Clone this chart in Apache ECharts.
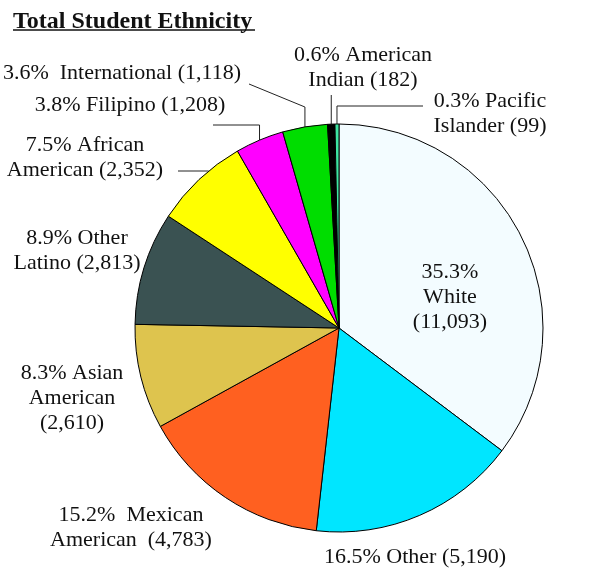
<!DOCTYPE html>
<html>
<head>
<meta charset="utf-8">
<script src="https://cdn.jsdelivr.net/npm/echarts@6/dist/echarts.min.js"></script>
<style>
  html, body { margin: 0; padding: 0; background: #fff; }
  #chart { width: 597px; height: 569px; }
</style>
</head>
<body>
<div id="chart"></div>
<script>
// data, clockwise from 12 o'clock
const categories = ['White', 'Other', 'Mexican American', 'Asian American', 'Other Latino',
  'African American', 'Filipino', 'International', 'American Indian', 'Pacific Islander'];
const students = [11093, 5190, 4783, 2610, 2813, 2352, 1208, 1118, 182, 99];
const sliceColors = ['#F3FCFF', '#00E6FF', '#FF6020', '#DEC44E', '#3A5252',
  '#FFFF00', '#FF00FF', '#00DD00', '#000000', '#3EE6A2'];

// label text: {p} percent, {n} name, {v} count
const labelTemplates = [
  '{p}\n{n}\n({v})',
  '{p} {n} ({v})',
  '{p}  Mexican\nAmerican  ({v})',
  '{p} Asian\nAmerican\n({v})',
  '{p} Other\nLatino ({v})',
  '{p} African\nAmerican ({v})',
  '{p} {n} ({v})',
  '{p}  {n} ({v})',
  '{p} American\nIndian ({v})',
  '{p} Pacific\nIslander ({v})'
];

const CX = 339, CY = 328, R = 204;

// label block centres
const labelPos = [
  [450, 297], [415, 557], [131, 528], [72, 398], [77, 251],
  [85, 158], [130, 105], [241, 73, 'right'], [363, 68], [490, 114]
];

// leader lines, starting from the slice edge point given by echarts
const lineRoutes = {
  5: function (p0) {
    const y = 171;
    return [[CX - Math.sqrt(R * R - (CY - y) * (CY - y)), y], [178, y]];
  },
  6: function (p0) { return [p0, [p0[0], 125], [213, 125]]; },
  7: function (p0) { return [p0, [p0[0], 107], [249, 84]]; },
  8: function (p0) { return [p0, [p0[0], 95]]; },
  9: function (p0) { return [p0, [p0[0], 106], [423, 106]]; }
};

const chart = echarts.init(document.getElementById('chart'));

const pieData = categories.map(function (name, i) {
  return {
    name: name,
    value: students[i],
    itemStyle: { color: sliceColors[i] },
    labelLine: { show: !!lineRoutes[i] }
  };
});

const option = {
  animation: false,
  title: {
    text: 'Total Student Ethnicity',
    left: 8,
    top: 5,
    textStyle: {
      fontFamily: 'Liberation Serif',
      fontWeight: 'bold',
      fontSize: 24,
      color: '#111'
    }
  },
  graphic: [{
    type: 'line',
    shape: { x1: 13, y1: 30, x2: 255, y2: 30 },
    style: { stroke: '#111', lineWidth: 1.5 }
  }],
  series: [{
    type: 'pie',
    center: [CX, CY],
    radius: R,
    startAngle: 90,
    clockwise: true,
    percentPrecision: 1,
    avoidLabelOverlap: false,
    itemStyle: { borderColor: '#000', borderWidth: 1 },
    label: {
      show: true,
      position: 'outside',
      fontFamily: 'Liberation Serif',
      fontSize: 22,
      lineHeight: 25,
      color: '#111',
      align: 'center',
      formatter: function (params) {
        return labelTemplates[params.dataIndex]
          .replace('{p}', params.percent + '%')
          .replace('{n}', params.name)
          .replace('{v}', echarts.format.addCommas(params.value));
      }
    },
    labelLine: {
      show: true,
      lineStyle: { color: '#222', width: 1 }
    },
    labelLayout: function (params) {
      const i = params.dataIndex;
      const pos = labelPos[i];
      const out = {
        x: pos[0],
        y: pos[1],
        align: pos[2] || 'center',
        verticalAlign: 'middle'
      };
      if (lineRoutes[i] && params.labelLinePoints) {
        out.labelLinePoints = lineRoutes[i](params.labelLinePoints[0]);
      }
      return out;
    },
    emphasis: { disabled: true },
    data: pieData
  }]
};

chart.setOption(option);
</script>
</body>
</html>
